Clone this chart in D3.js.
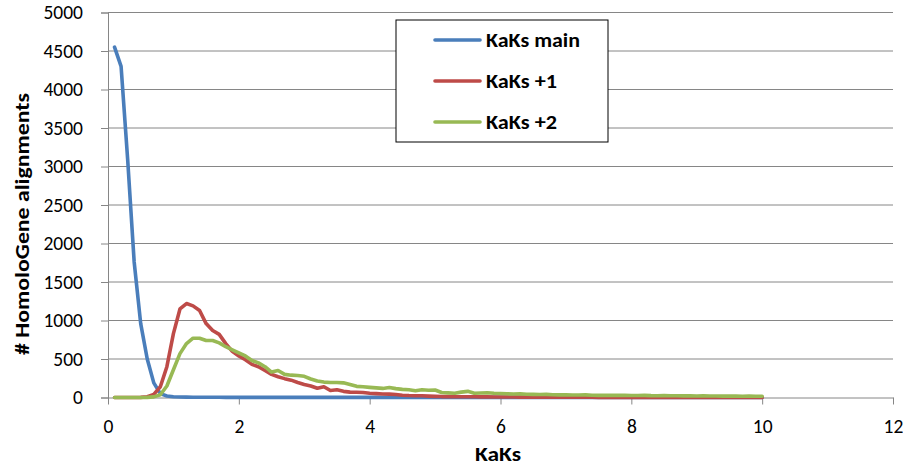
<!DOCTYPE html>
<html><head><meta charset="utf-8">
<script src="https://cdn.jsdelivr.net/npm/d3@7"></script>
<style>
body{margin:0;background:#fff;}
text{font-family:Carlito,Calibri,Lato,"Open Sans",sans-serif;}
</style></head>
<body><svg id="c" width="903" height="469"></svg>
<script>
const kaks = [0.1,0.2,0.3,0.4,0.5,0.6,0.7,0.8,0.9,1.0,
1.1,1.2,1.3,1.4,1.5,1.6,1.7,1.8,1.9,2.0,
2.1,2.2,2.3,2.4,2.5,2.6,2.7,2.8,2.9,3.0,
3.1,3.2,3.3,3.4,3.5,3.6,3.7,3.8,3.9,4.0,
4.1,4.2,4.3,4.4,4.5,4.6,4.7,4.8,4.9,5.0,
5.1,5.2,5.3,5.4,5.5,5.6,5.7,5.8,5.9,6.0,
6.1,6.2,6.3,6.4,6.5,6.6,6.7,6.8,6.9,7.0,
7.1,7.2,7.3,7.4,7.5,7.6,7.7,7.8,7.9,8.0,
8.1,8.2,8.3,8.4,8.5,8.6,8.7,8.8,8.9,9.0,
9.1,9.2,9.3,9.4,9.5,9.6,9.7,9.8,9.9,10.0];

const kaksMain = [4550,4300,3100,1760,960,500,190,50,20,10,
7,5,4,4,3,3,3,2,2,2,
2,2,2,2,1,1,1,1,1,1,
1,1,1,1,1,1,1,1,1,1,
1,1,1,1,1,1,1,1,1,1,
1,1,1,1,1,1,1,1,1,1,
1,1,1,1,1,1,1,1,1,1,
1,1,1,1,1,1,1,1,1,1,
1,1,1,1,1,1,1,1,1,1,
1,1,1,1,1,1,1,1,1,1];

const kaksPlus1 = [0,0,0,0,2,10,40,140,400,830,
1150,1220,1190,1130,960,870,820,700,600,540,
490,430,400,350,300,270,245,225,195,170,
150,120,140,90,100,80,70,68,65,55,
50,45,44,38,30,25,23,22,18,15,
12,11,10,10,9,9,8,8,7,7,
6,6,5,5,5,4,4,4,4,3,
3,3,3,3,2,2,2,2,2,2,
2,2,2,1,1,1,1,1,1,1,
1,1,1,1,1,1,1,1,1,1];

const kaksPlus2 = [0,0,0,0,0,2,8,35,150,360,
570,700,770,770,740,740,710,660,620,580,
540,480,450,400,330,350,300,290,285,275,
240,215,200,195,195,190,170,145,140,132,
125,118,130,115,106,100,88,100,95,97,
65,60,55,70,80,55,58,62,55,52,
48,45,47,42,40,38,40,36,34,35,
33,32,34,30,28,30,28,27,29,26,
25,27,24,23,25,22,23,21,22,20,
21,19,20,18,19,18,17,18,17,16];

const seriesNames = ["KaKs main","KaKs +1","KaKs +2"];
const seriesColors = ["#4A7EBB","#BE4B48","#98B954"];
const xTicks = [0,2,4,6,8,10,12];
const yTicks = [0,500,1000,1500,2000,2500,3000,3500,4000,4500,5000];

const svg = d3.select("#c");
const x = d3.scaleLinear().domain([0,12]).range([108,893]);
const y = d3.scaleLinear().domain([0,5000]).range([397.5,12.5]);
const grid = "#868686";

// stretch bold text to match the reference's wider face
function fitWidth(sel, w){
  sel.attr("textLength", w).attr("lengthAdjust","spacingAndGlyphs");
}

// gridlines
svg.append("g").selectAll("line").data(yTicks.filter(d=>d>0)).join("line")
  .attr("x1",x(0)).attr("x2",x(12)).attr("y1",d=>y(d)).attr("y2",d=>y(d))
  .attr("stroke",grid).attr("stroke-width",1);

// y axis
const yAxis = svg.append("g").attr("transform",`translate(${x(0)},0)`)
  .call(d3.axisLeft(y).tickValues(yTicks).tickSize(7).tickPadding(18).tickFormat(d3.format("d")));
yAxis.select(".domain").attr("stroke",grid);
yAxis.selectAll(".tick line").attr("stroke",grid);
yAxis.selectAll("text").attr("font-size",19.5).attr("fill","#000");

// x axis
const xAxis = svg.append("g").attr("transform",`translate(0,${y(0)})`)
  .call(d3.axisBottom(x).tickValues(xTicks).tickSize(7).tickPadding(15).tickSizeOuter(0));
xAxis.select(".domain").attr("stroke",grid);
xAxis.selectAll(".tick line").attr("stroke",grid);
xAxis.selectAll("text").attr("font-size",19.5).attr("fill","#000");

// lines
const allSeries = [kaksMain,kaksPlus1,kaksPlus2];
const line = d3.line().x((d,i)=>x(kaks[i])).y(d=>y(d));
allSeries.forEach((s,k)=>{
  svg.append("path").datum(s).attr("d",line).attr("fill","none")
    .attr("stroke",seriesColors[k]).attr("stroke-width",3.6)
    .attr("stroke-linejoin","round").attr("stroke-linecap","round");
});

// titles
svg.append("text").attr("transform","translate(29,224) rotate(-90)")
  .attr("text-anchor","middle").attr("font-size",21).attr("font-weight","bold")
  .text("# HomoloGene alignments").call(fitWidth,262);
svg.append("text").attr("x",498).attr("y",461).attr("text-anchor","middle")
  .attr("font-size",20).attr("font-weight","bold").text("KaKs").call(fitWidth,46);

// legend
const lg = svg.append("g");
lg.append("rect").attr("x",396).attr("y",20).attr("width",212).attr("height",122)
  .attr("fill","#fff").attr("stroke","#000").attr("stroke-width",1);
const legendW = [94,71,71];
seriesNames.forEach((n,k)=>{
  const yy = [40,81,122][k];
  lg.append("line").attr("x1",435).attr("x2",480).attr("y1",yy).attr("y2",yy)
    .attr("stroke",seriesColors[k]).attr("stroke-width",3.6).attr("stroke-linecap","round");
  lg.append("text").attr("x",486).attr("y",yy+7).attr("font-size",20).attr("font-weight","bold")
    .text(n).call(fitWidth,legendW[k]);
});
</script></body></html>
